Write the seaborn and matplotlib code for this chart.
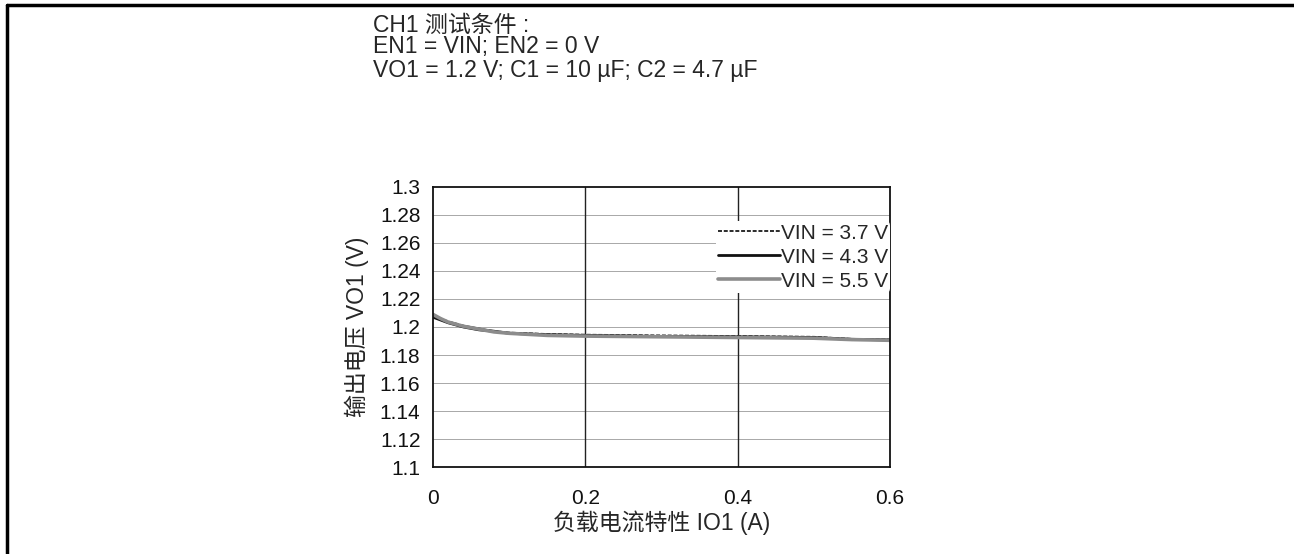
import matplotlib
matplotlib.use("Agg")
import matplotlib.pyplot as plt
import seaborn as sns
from matplotlib.lines import Line2D
from pandas import DataFrame

## data ##
io1_a = [0.0, 0.01, 0.02, 0.04, 0.06, 0.08, 0.1, 0.15, 0.2, 0.3, 0.4, 0.5, 0.55, 0.6]
vo1_vin_3v7 = [1.208, 1.206, 1.204, 1.201, 1.199, 1.197, 1.196, 1.195, 1.1945, 1.194, 1.1935, 1.193, 1.1915, 1.191]
vo1_vin_4v3 = [1.207, 1.205, 1.203, 1.200, 1.198, 1.197, 1.1955, 1.1945, 1.194, 1.1932, 1.193, 1.1925, 1.1912, 1.1908]
vo1_vin_5v5 = [1.209, 1.206, 1.2035, 1.2005, 1.1985, 1.1965, 1.1955, 1.194, 1.1935, 1.193, 1.1925, 1.192, 1.191, 1.1905]
series_labels = ["VIN = 3.7 V", "VIN = 4.3 V", "VIN = 5.5 V"]
y_ticks = [1.1, 1.12, 1.14, 1.16, 1.18, 1.2, 1.22, 1.24, 1.26, 1.28, 1.3]
y_tick_labels = ["1.1", "1.12", "1.14", "1.16", "1.18", "1.2", "1.22", "1.24", "1.26", "1.28", "1.3"]
x_ticks = [0, 0.2, 0.4, 0.6]
x_tick_labels = ["0", "0.2", "0.4", "0.6"]

FS_TICK = 15
FS_LABEL = 16.5
FS_NOTE = 16.5

sns.set_theme(style="white")
plt.rcParams['font.family'] = ['Liberation Sans', 'Noto Sans CJK SC', 'DejaVu Sans']

fig = plt.figure(figsize=(12.94, 5.54), dpi=100)
ax = fig.add_axes([0.3346, 0.157, 0.3532, 0.5055])

styles = [
    dict(color="#1a1a1a", linewidth=1.3, linestyle=(0, (2.2, 1.0))),
    dict(color="#111111", linewidth=2.0, linestyle="-"),
    dict(color="#8c8c8c", linewidth=2.6, linestyle="-"),
]
for vals, label, st in zip([vo1_vin_3v7, vo1_vin_4v3, vo1_vin_5v5], series_labels, styles):
    df = DataFrame({"io": io1_a, "vo": vals})
    sns.lineplot(data=df, x="io", y="vo", ax=ax, label=label, **st)

ax.set_xlim(0, 0.6)
ax.set_ylim(1.1, 1.3)
ax.set_xticks(x_ticks)
ax.set_xticklabels(x_tick_labels, fontsize=FS_TICK)
ax.set_yticks(y_ticks)
ax.set_yticklabels(y_tick_labels, fontsize=FS_TICK)
ax.tick_params(axis='both', direction='inout', length=11, width=1.2, colors='#111111')
ax.tick_params(axis='y', pad=3.5)
ax.tick_params(axis='x', pad=10)

# grid: thin grey horizontals at every tick, dark verticals
for y in y_ticks[1:-1]:
    ax.axhline(y, color="#a8a8a8", linewidth=0.7, zorder=0)
for x in x_ticks[1:-1]:
    ax.axvline(x, color="#222222", linewidth=1.0, zorder=0)

for side in ['left', 'bottom', 'right', 'top']:
    ax.spines[side].set_visible(True)
    ax.spines[side].set_color('#111111')
    ax.spines[side].set_linewidth(1.3)

ax.set_xlabel("负载电流特性 IO1 (A)", fontsize=FS_LABEL, labelpad=2)
ax.set_ylabel("输出电压 VO1 (V)", fontsize=FS_LABEL, labelpad=8)

leg = ax.legend(loc='upper right', bbox_to_anchor=(1.0, 0.877), frameon=True,
                fontsize=FS_TICK, handlelength=2.97, handletextpad=0.05,
                labelspacing=0.24, borderpad=0.1, borderaxespad=0.0)
leg.get_frame().set_facecolor('white')
leg.get_frame().set_edgecolor('none')
leg.get_frame().set_alpha(1.0)

fig.text(373 / 1294, 1 - 25 / 554, "CH1 测试条件 :", fontsize=FS_NOTE, va='center', ha='left')
fig.text(373 / 1294, 1 - 47 / 554, "EN1 = VIN; EN2 = 0 V", fontsize=FS_NOTE, va='center', ha='left')
fig.text(373 / 1294, 1 - 70 / 554, "VO1 = 1.2 V; C1 = 10 µF; C2 = 4.7 µF", fontsize=FS_NOTE, va='center', ha='left')

# outer frame (top and left edges)
fig.add_artist(Line2D([6.5 / 1294, 1.0], [1 - 5 / 554, 1 - 5 / 554], color='black', linewidth=2.5,
                      transform=fig.transFigure))
fig.add_artist(Line2D([6.5 / 1294, 6.5 / 1294], [0, 1 - 5 / 554], color='black', linewidth=2.5,
                      transform=fig.transFigure))

fig.savefig("out.png", dpi=100, facecolor='white')
